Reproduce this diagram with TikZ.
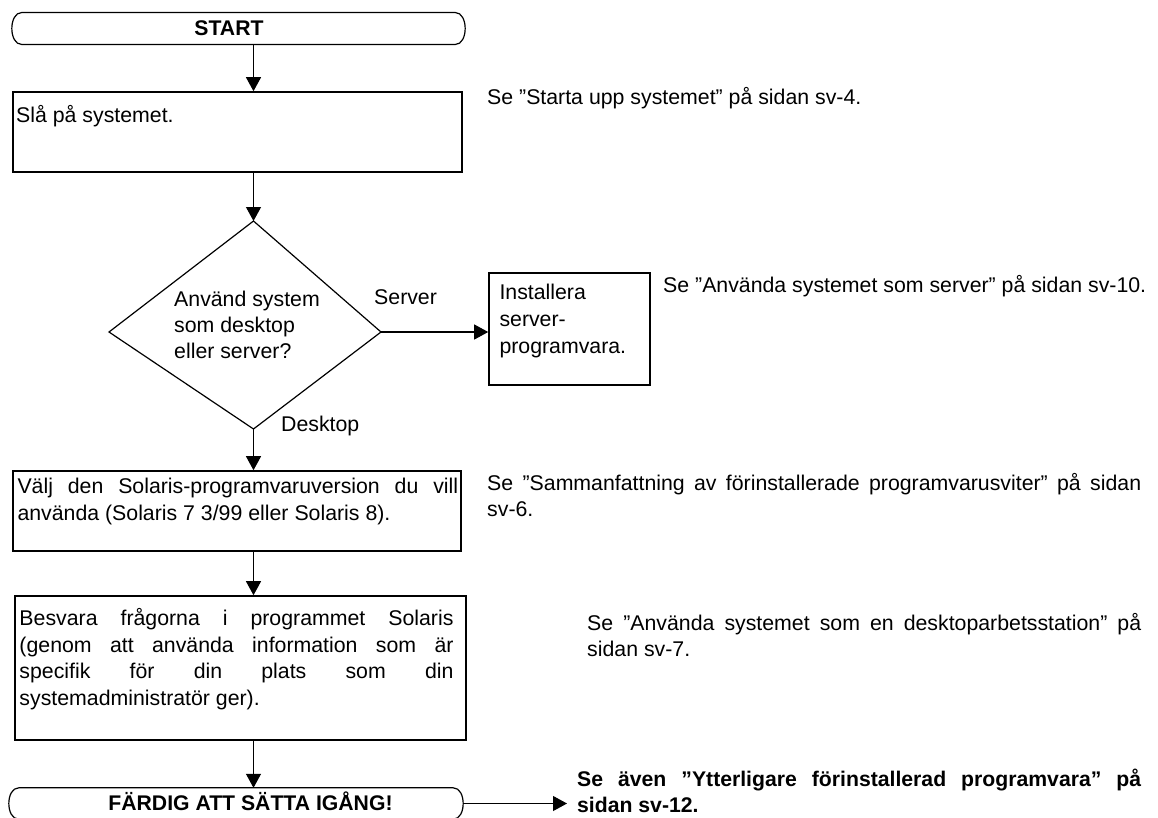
\documentclass[tikz,border=0pt]{standalone}
\usepackage{fontspec}
\setmainfont{Liberation Sans}
\usetikzlibrary{arrows.meta}
\begin{document}
\begin{tikzpicture}[x=1pt,y=-1pt,
  lbl/.style={anchor=base west, inner sep=0pt, font=\fontsize{21.3pt}{26pt}\selectfont},
  blbl/.style={anchor=base west, inner sep=0pt, font=\fontsize{21.2pt}{26pt}\selectfont\bfseries},
  boxnode/.style={draw, line width=1.6pt, inner sep=0pt},
  termnode/.style={inner sep=0pt},
  shapeline/.style={line width=1.2pt},
  conn/.style={line width=1.1pt, -{Triangle[width=15pt,length=14pt]}}]
\useasboundingbox (0,0) rectangle (1158,817);
\fill[white] (0,0) rectangle (1158,817);

\coordinate (spine) at (253.5,0);

% START terminal
\node[termnode, minimum width=453pt, minimum height=31.6pt] (start) at (238.5,28.5) {};
\draw[shapeline] ([xshift=10pt]start.north west) -- ([xshift=-10pt]start.north east)
  .. controls ([xshift=3.3pt]start.north east) and ([xshift=3.3pt]start.south east) .. ([xshift=-10pt]start.south east)
  -- ([xshift=10pt]start.south west)
  .. controls ([xshift=-3.3pt]start.south west) and ([xshift=-3.3pt]start.north west) .. ([xshift=10pt]start.north west) -- cycle;
\node[blbl, anchor=base] (starttxt) at (229,35) {START};

% Box 1
\node[boxnode, minimum width=449pt, minimum height=80pt] (box1) at (237.5,132) {};
\node[lbl] (t1) at (16,122.7) {Slå på systemet.};
\draw[conn] (start.south -| spine) -- (box1.north -| spine);

% Decision
\coordinate (dtop) at (253.5,221);
\coordinate (dleft) at (109,332);
\coordinate (dright) at (381,332);
\coordinate (dbot) at (253.5,429);
\draw[shapeline] (dtop) -- (dright) -- (dbot) -- (dleft) -- cycle;
\draw[conn] (box1.south -| spine) -- (dtop);
\node[lbl] (q1) at (174,306) {Använd system};
\node[lbl] (q2) at (174,332) {som desktop};
\node[lbl] (q3) at (174,358) {eller server?};
\node[lbl] (server) at (374,304) {Server};
\node[lbl] (desktop) at (281,431) {Desktop};

% Box 2 (server)
\node[boxnode, minimum width=161pt, minimum height=112pt] (box2) at (569.5,329) {};
\node[lbl] (s1) at (499.3,299) {Installera};
\node[lbl] (s2) at (499.3,326) {server-};
\node[lbl] (s3) at (499.3,353) {programvara.};
\draw[conn] (dright) -- (box2.west |- dright);

% Box 3
\node[boxnode, minimum width=448pt, minimum height=80pt] (box3) at (237,511) {};
\node[lbl] (v1) at (17.3,493) {\makebox[440.7pt][s]{Välj den Solaris-programvaruversion du vill}};
\node[lbl] (v2) at (17.3,520) {använda (Solaris 7 3/99 eller Solaris 8).};
\draw[conn] (dbot) -- (box3.north -| spine);

% Box 4
\node[boxnode, minimum width=451pt, minimum height=144pt] (box4) at (240.2,668) {};
\node[lbl] (b1) at (19.3,625.5) {\makebox[434pt][s]{Besvara frågorna i programmet Solaris}};
\node[lbl] (b2) at (19.3,652.2) {\makebox[434pt][s]{(genom att använda information som är}};
\node[lbl] (b3) at (19.3,678.9) {\makebox[434pt][s]{specifik för din plats som din}};
\node[lbl] (b4) at (19.3,705.6) {systemadministratör ger).};
\draw[conn] (box3.south -| spine) -- (box4.north -| spine);

% Done terminal
\node[termnode, minimum width=454pt, minimum height=31pt] (done) at (236,803.5) {};
\draw[shapeline] ([xshift=10pt]done.north west) -- ([xshift=-10pt]done.north east)
  .. controls ([xshift=3.3pt]done.north east) and ([xshift=3.3pt]done.south east) .. ([xshift=-10pt]done.south east)
  -- ([xshift=10pt]done.south west)
  .. controls ([xshift=-3.3pt]done.south west) and ([xshift=-3.3pt]done.north west) .. ([xshift=10pt]done.north west) -- cycle;
\node[blbl, anchor=base] (donetxt) at (250.5,810) {FÄRDIG ATT SÄTTA IGÅNG!};
\draw[conn] (box4.south -| spine) -- (done.north -| spine);
\coordinate (seealso) at (567,803.5);
\draw[conn] (done.east) -- (seealso);

% Right-hand references
\node[lbl] (r1) at (487,104) {Se ”Starta upp systemet” på sidan sv-4.};
\node[lbl] (r2) at (663,292) {Se ”Använda systemet som server” på sidan sv-10.};
\node[lbl] (r3a) at (487,490) {\makebox[654pt][s]{Se ”Sammanfattning av förinstallerade programvarusviter” på sidan}};
\node[lbl] (r3b) at (487,516) {sv-6.};
\node[lbl] (r4a) at (587,630) {\makebox[554pt][s]{Se ”Använda systemet som en desktoparbetsstation” på}};
\node[lbl] (r4b) at (587,656) {sidan sv-7.};
\node[blbl] (r5a) at (577,786) {\makebox[564pt][s]{Se även ”Ytterligare förinstallerad programvara” på}};
\node[blbl] (r5b) at (577,812) {sidan sv-12.};
\end{tikzpicture}
\end{document}
